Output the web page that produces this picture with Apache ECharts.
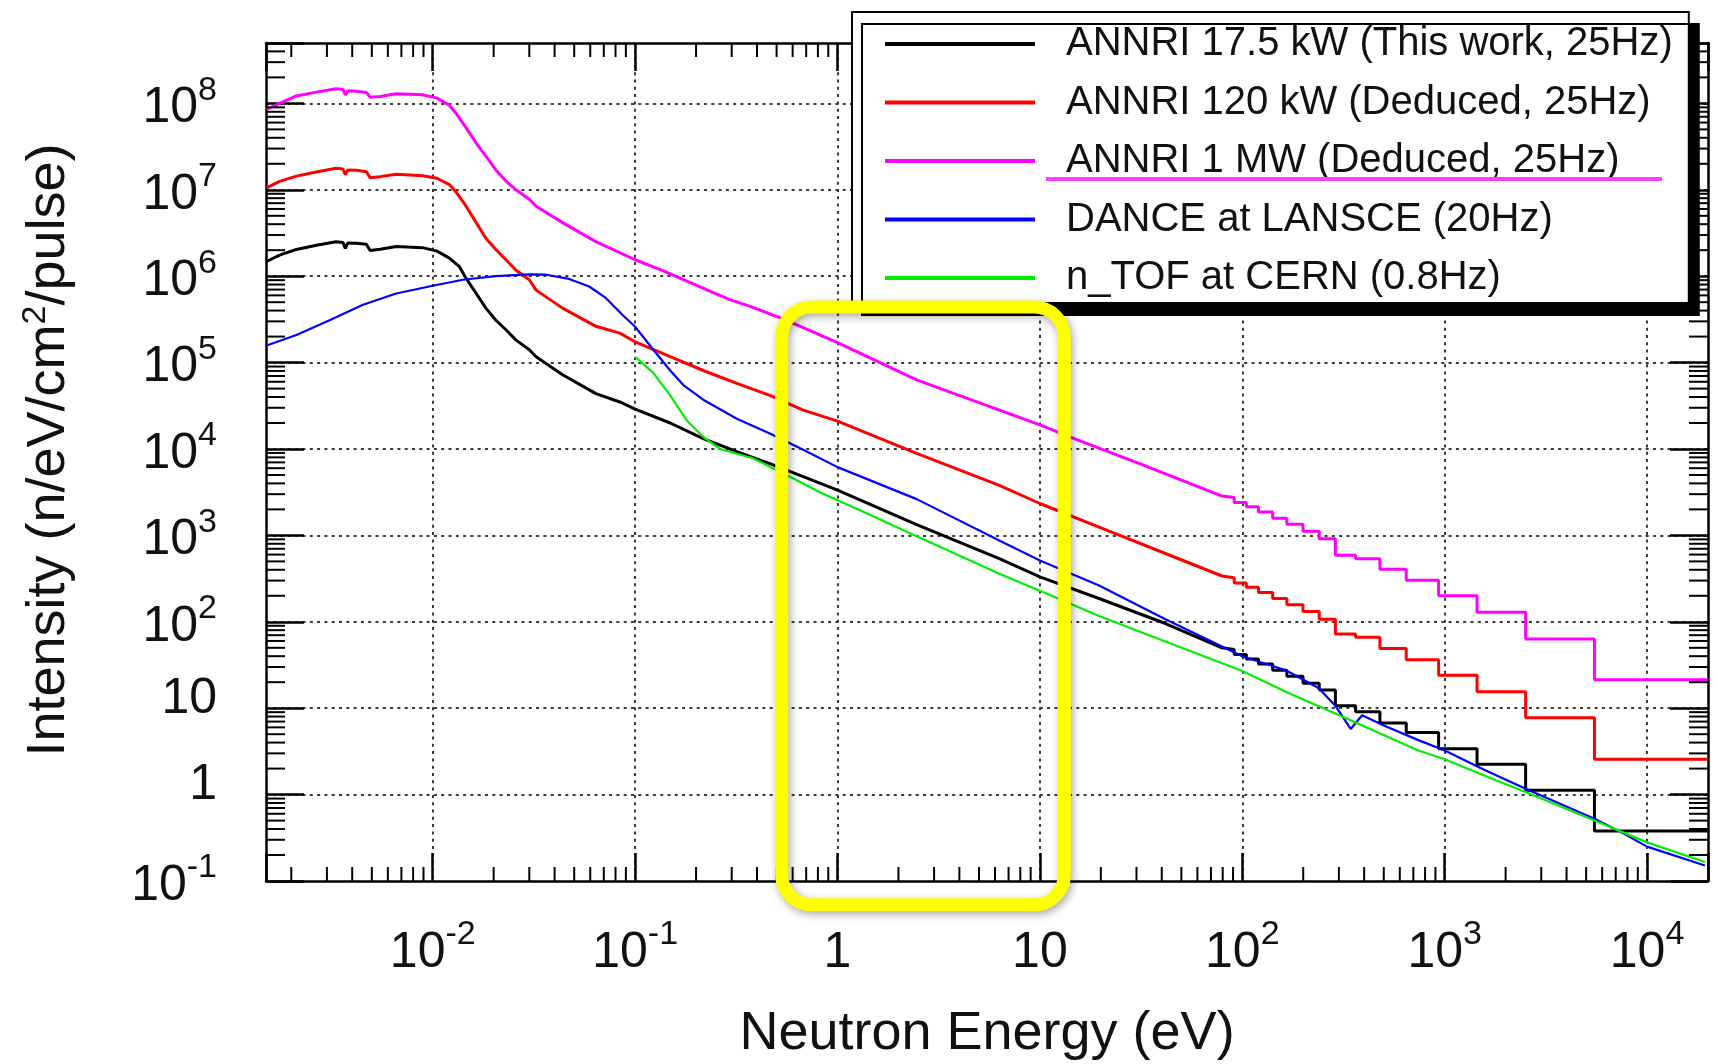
<!DOCTYPE html>
<html>
<head>
<meta charset="utf-8">
<script src="https://cdn.jsdelivr.net/npm/echarts@6/dist/echarts.min.js"></script>
<style>
html,body{margin:0;padding:0;background:#fff;}
#chart{width:1717px;height:1064px;}
</style>
</head>
<body>
<div id="chart"></div>
<script>
// ---------------- DATA ----------------
const seriesNames = [
  'ANNRI 17.5 kW (This work, 25Hz)',
  'ANNRI 120 kW (Deduced, 25Hz)',
  'ANNRI 1 MW (Deduced, 25Hz)',
  'DANCE at LANSCE (20Hz)',
  'n_TOF at CERN (0.8Hz)'
];

// axis decades that carry labels
const xDecades = [0.01, 0.1, 1, 10, 100, 1000, 10000];
const yDecades = [0.1, 1, 10, 100, 1e3, 1e4, 1e5, 1e6, 1e7, 1e8];

// ANNRI 17.5 kW, continuous part  [energy eV, intensity]
const annri175Cont = [
  [0.00151,1.48e6],[0.00175,1.75e6],[0.00212,2.04e6],[0.0027,2.3e6],[0.00333,2.51e6],
  [0.0036,2.46e6],[0.0037,2.1e6],[0.0038,2.42e6],[0.0042,2.4e6],[0.0047,2.34e6],
  [0.0049,1.98e6],[0.0055,2.05e6],[0.0066,2.21e6],[0.0089,2.14e6],[0.0105,1.95e6],
  [0.01208,1.62e6],[0.01355,1.29e6],[0.01459,9.5e5],[0.0164,6.3e5],[0.0183,4.27e5],
  [0.0205,3.09e5],[0.023,2.4e5],[0.0258,1.82e5],[0.030,1.41e5],[0.0324,1.17e5],
  [0.0438,7.24e4],[0.064,4.37e4],[0.084,3.5e4],[0.1,2.9e4],[0.149,2.0e4],
  [0.217,1.32e4],[0.318,9.3e3],[0.463,6.76e3],[0.677,4.79e3],[1,3.35e3],[2.46,1.33e3],
  [6.3,537],[10,331],[19.6,186],[41.7,95.5],[79.4,50]
];
// ANNRI 120 kW, continuous part
const annri120Cont = [
  [0.00151,1.05e7],[0.00175,1.25e7],[0.00212,1.44e7],[0.0027,1.62e7],[0.00333,1.78e7],
  [0.0036,1.74e7],[0.0037,1.5e7],[0.0038,1.7e7],[0.0042,1.68e7],[0.0047,1.62e7],
  [0.0049,1.38e7],[0.0055,1.42e7],[0.0066,1.51e7],[0.0089,1.45e7],[0.0105,1.36e7],
  [0.01208,1.15e7],[0.013,9.5e6],[0.01459,6.5e6],[0.0164,4.17e6],[0.0183,2.75e6],
  [0.0205,2.04e6],[0.023,1.55e6],[0.0258,1.17e6],[0.030,9.1e5],[0.0324,6.9e5],
  [0.0438,4.27e5],[0.064,2.63e5],[0.084,2.19e5],[0.1,1.74e5],[0.149,1.17e5],
  [0.217,8.1e4],[0.318,5.75e4],[0.463,4.17e4],[0.677,2.82e4],[1,2.1e4],[2.46,8.9e3],
  [6.3,3.8e3],[10,2.34e3],[19.6,1.25e3],[41.7,617],[79.4,339]
];
// ANNRI 1 MW, continuous part
const annri1MWCont = [
  [0.00151,8.5e7],[0.00175,1.0e8],[0.00212,1.22e8],[0.0027,1.36e8],[0.00333,1.48e8],
  [0.0036,1.45e8],[0.0037,1.25e8],[0.0038,1.4e8],[0.0042,1.38e8],[0.0047,1.34e8],
  [0.0049,1.18e8],[0.0055,1.2e8],[0.0066,1.29e8],[0.0089,1.26e8],[0.0105,1.15e8],
  [0.01208,9.5e7],[0.013,7.76e7],[0.01459,5.25e7],[0.0164,3.47e7],[0.0183,2.45e7],
  [0.0205,1.7e7],[0.023,1.26e7],[0.0258,1.0e7],[0.030,7.76e6],[0.0324,6.46e6],
  [0.0438,4.17e6],[0.064,2.51e6],[0.1,1.55e6],[0.136,1.17e6],[0.2,7.9e5],
  [0.291,5.4e5],[0.37,4.47e5],[0.56,3.09e5],[1,1.7e5],[2.46,6.3e4],[10,1.9e4],
  [15.1,1.29e4],[32,6.6e3],[79.4,2.85e3]
];
// histogram part of the ANNRI spectra (bin edges in eV, one level per bin)
const stepEdges = [79.4,91.2,104.7,120.2,141.3,166,199.5,239.9,288.4,363,478.6,645.7,933.3,1445,2512,5495,20000];
const annri175Steps = [47.9,41.7,37.2,32.4,27.5,23.4,19.5,16.2,10.7,9.12,6.76,5.25,3.39,2.24,1.12,0.38];
const annri120Steps = [324,282,251,219,186,158,132,107,72.4,66.1,49.0,36.3,24.0,15.5,7.76,2.57];
const annri1MWSteps = [2750,2400,2140,1860,1580,1350,1120,912,589,537,407,302,200,129,63.1,21.4];

// DANCE at LANSCE
const danceData = [
  [0.00151,1.58e5],[0.00212,2.09e5],[0.00309,3.09e5],[0.00452,4.68e5],[0.0066,6.3e5],
  [0.01,7.76e5],[0.0141,9.1e5],[0.0205,1.0e6],[0.03,1.05e6],[0.0363,1.04e6],
  [0.0472,9.3e5],[0.0593,7.6e5],[0.0716,5.6e5],[0.0867,3.55e5],[0.1,2.6e5],
  [0.123,1.41e5],[0.149,8.1e4],[0.173,5.5e4],[0.217,3.72e4],[0.318,2.24e4],
  [0.463,1.51e4],[0.677,9.8e3],[1,6.17e3],[2.46,2.63e3],[6.3,871],[10,513],
  [19.6,263],[41.7,107],[100,40],[164,27.5],[239,17.0],[288,10.7],[343,5.75],
  [391,8.3],[500,6.3],[741,4.27],[1000,3.24],[1585,1.91],[2512,1.17],[5495,0.525],
  [7244,0.38],[10000,0.25],[19300,0.151]
];
// n_TOF at CERN
const ntofData = [
  [0.1,1.17e5],[0.123,7.6e4],[0.149,4.17e4],[0.18,2.14e4],[0.217,1.38e4],
  [0.263,1.0e4],[0.384,7.76e3],[0.56,5.0e3],[0.818,3.16e3],[1.29,1.95e3],[2.46,977],
  [6.3,359],[10,229],[19.6,117],[41.7,59],[100,26.9],[164,15.5],[288,8.7],[741,3.24],
  [1000,2.57],[1905,1.38],[2512,1.07],[5495,0.5],[10000,0.28],[19300,0.166]
];

// ---------------- helpers ----------------
const X_MIN = 0.0015, X_MAX = 20000, Y_MIN = 0.1, Y_MAX = 5e8;
const F = "'Liberation Sans', Arial, Helvetica, sans-serif";

function stepPoints(levels) {
  const pts = [];
  for (let i = 0; i < levels.length; i++) {
    pts.push([stepEdges[i], levels[i]]);
    pts.push([stepEdges[i + 1], levels[i]]);
  }
  return pts;
}
function minorTicks(lo, hi) {
  const out = [];
  for (let e = -4; e <= 9; e++) {
    const d = Math.pow(10, e);
    for (let m = 2; m <= 9; m++) {
      const v = m * d;
      if (v > lo * 1.0001 && v < hi * 0.9999) out.push(v);
    }
  }
  return out;
}
function makeFormatter(decades) {
  return function (v) {
    for (const d of decades) {
      if (Math.abs(v - d) / d < 1e-6) {
        const e = Math.round(Math.log10(d));
        if (e === 0) return '{p|1}';
        if (e === 1) return '{p|10}';
        return '{b|10}{s|' + e + '}';
      }
    }
    return '';
  };
}
const labelRich = {
  b: {fontSize: 50, fontFamily: F, color: '#111', lineHeight: 60, verticalAlign: 'bottom'},
  p: {fontSize: 50, fontFamily: F, color: '#111', lineHeight: 60, verticalAlign: 'bottom'},
  s: {fontSize: 34, fontFamily: F, color: '#111', lineHeight: 34, verticalAlign: 'top'}
};
const yLabelRich = Object.assign({}, labelRich, {
  p: {fontSize: 50, fontFamily: F, color: '#111', lineHeight: 60, verticalAlign: 'bottom', padding: [0, 0, 14, 0]}
});

const xMinor = minorTicks(X_MIN, X_MAX);
const yMinor = minorTicks(Y_MIN, Y_MAX);

const gridLine = {show: true, showMinLine: false, showMaxLine: false,
  lineStyle: {color: '#3a3a3a', width: 2, type: [3, 4.3]}};
const frameLine = {show: true, onZero: false, lineStyle: {color: '#000', width: 2.5}};

const chart = echarts.init(document.getElementById('chart'), null, {renderer: 'canvas'});

const option = {
  animation: false,
  backgroundColor: '#fff',
  grid: {left: 266, right: 9, top: 43, bottom: 183, outerBoundsMode: 'none'},
  legend: {
    data: seriesNames,
    orient: 'vertical',
    left: 852, top: 12,
    padding: [8, 16, 1, 33],
    itemGap: 10.5,
    icon: 'rect',
    itemWidth: 150, itemHeight: 4,
    selectedMode: false,
    textStyle: {fontSize: 40, fontFamily: F, color: '#111', lineHeight: 48, padding: [0, 0, 0, 26]},
    backgroundColor: '#fff',
    borderColor: '#000', borderWidth: 2, borderRadius: 0,
    shadowColor: '#000', shadowBlur: 0, shadowOffsetX: 10, shadowOffsetY: 12,
    z: 20
  },
  xAxis: [
    {
      type: 'log', logBase: 10, min: X_MIN, max: X_MAX, position: 'bottom',
      axisLine: frameLine,
      axisTick: {show: true, inside: true, length: 28, lineStyle: {color: '#000', width: 2.5}},
      axisLabel: {show: true, margin: 37, formatter: makeFormatter(xDecades), rich: labelRich},
      splitLine: gridLine,
      minorTick: {show: false},
      name: 'Neutron Energy (eV)', nameLocation: 'middle', nameGap: 123,
      nameTextStyle: {fontSize: 54, fontFamily: F, color: '#111', lineHeight: 60}
    },
    {
      type: 'log', logBase: 10, min: X_MIN, max: X_MAX, position: 'top',
      axisLine: frameLine,
      axisTick: {show: true, inside: true, length: 28, lineStyle: {color: '#000', width: 2.5}},
      axisLabel: {show: false}, splitLine: {show: false}
    }
  ],
  yAxis: [
    {
      type: 'log', logBase: 10, min: Y_MIN, max: Y_MAX, position: 'left',
      axisLine: frameLine,
      axisTick: {show: true, inside: true, length: 38, lineStyle: {color: '#000', width: 2.5}},
      axisLabel: {show: true, margin: 49, formatter: makeFormatter(yDecades), rich: yLabelRich},
      splitLine: gridLine,
      minorTick: {show: false},
      name: 'Intensity (n/eV/cm{sup|2}/pulse)', nameLocation: 'middle', nameGap: 187,
      nameTextStyle: {fontSize: 54, fontFamily: F, color: '#111', lineHeight: 60, padding: [0, 0, 0, 24],
        rich: {sup: {fontSize: 34, fontFamily: F, color: '#111', lineHeight: 34, verticalAlign: 'top'}}}
    },
    {
      type: 'log', logBase: 10, min: Y_MIN, max: Y_MAX, position: 'right',
      axisLine: frameLine,
      axisTick: {show: true, inside: true, length: 38, lineStyle: {color: '#000', width: 2.5}},
      axisLabel: {show: false}, splitLine: {show: false}
    }
  ],
  series: [
    {name: seriesNames[0], type: 'line', data: annri175Cont.concat(stepPoints(annri175Steps)),
      symbol: 'none', lineStyle: {color: '#000000', width: 3}, itemStyle: {color: '#000000'}, z: 3},
    {name: seriesNames[1], type: 'line', data: annri120Cont.concat(stepPoints(annri120Steps)),
      symbol: 'none', lineStyle: {color: '#ff0000', width: 3}, itemStyle: {color: '#ff0000'}, z: 3},
    {name: seriesNames[2], type: 'line', data: annri1MWCont.concat(stepPoints(annri1MWSteps)),
      symbol: 'none', lineStyle: {color: '#ff00ff', width: 3}, itemStyle: {color: '#ff00ff'}, z: 3},
    {name: seriesNames[3], type: 'line', data: danceData,
      symbol: 'none', lineStyle: {color: '#0000ff', width: 2.2}, itemStyle: {color: '#0000ff'}, z: 3},
    {name: seriesNames[4], type: 'line', data: ntofData,
      symbol: 'none', lineStyle: {color: '#00ee00', width: 2.2}, itemStyle: {color: '#00ee00'}, z: 3},
    {
      name: 'xMinorTicks', type: 'custom', silent: true, clip: false, z: 4,
      data: xMinor.map(v => [v, Y_MIN]),
      renderItem: function (params, api) {
        const v = api.value(0);
        const b = api.coord([v, Y_MIN]);
        const t = api.coord([v, Y_MAX]);
        return {type: 'group', children: [
          {type: 'line', shape: {x1: b[0], y1: b[1], x2: b[0], y2: b[1] - 14}, style: {stroke: '#000', lineWidth: 2}},
          {type: 'line', shape: {x1: t[0], y1: t[1], x2: t[0], y2: t[1] + 14}, style: {stroke: '#000', lineWidth: 2}}
        ]};
      }
    },
    {
      name: 'yMinorTicks', type: 'custom', silent: true, clip: false, z: 4,
      data: yMinor.map(v => [X_MIN, v]),
      renderItem: function (params, api) {
        const v = api.value(1);
        const l = api.coord([X_MIN, v]);
        const r = api.coord([X_MAX, v]);
        return {type: 'group', children: [
          {type: 'line', shape: {x1: l[0], y1: l[1], x2: l[0] + 19, y2: l[1]}, style: {stroke: '#000', lineWidth: 2}},
          {type: 'line', shape: {x1: r[0], y1: r[1], x2: r[0] - 19, y2: r[1]}, style: {stroke: '#000', lineWidth: 2}}
        ]};
      }
    }
  ]
};
chart.setOption(option);

// annotation box (in data coordinates) and underline in the legend
const highlight = {e0: 0.53, e1: 13.2, i0: 4.4e5, i1: 0.053};
const pA = chart.convertToPixel({seriesIndex: 0}, [highlight.e0, highlight.i0]);
const pB = chart.convertToPixel({seriesIndex: 0}, [highlight.e1, highlight.i1]);
chart.setOption({
  graphic: [
    {
      type: 'rect', z: 100,
      shape: {x: pA[0], y: pA[1], width: pB[0] - pA[0], height: pB[1] - pA[1], r: 30},
      style: {fill: 'none', stroke: '#ffff00', lineWidth: 13,
        shadowBlur: 8, shadowColor: 'rgba(0,0,0,0.35)', shadowOffsetX: 2, shadowOffsetY: 3}
    },
    {
      type: 'line', z: 100,
      shape: {x1: 1046, y1: 179, x2: 1662, y2: 179},
      style: {stroke: '#ff3cff', lineWidth: 4}
    }
  ]
});
</script>
</body>
</html>
